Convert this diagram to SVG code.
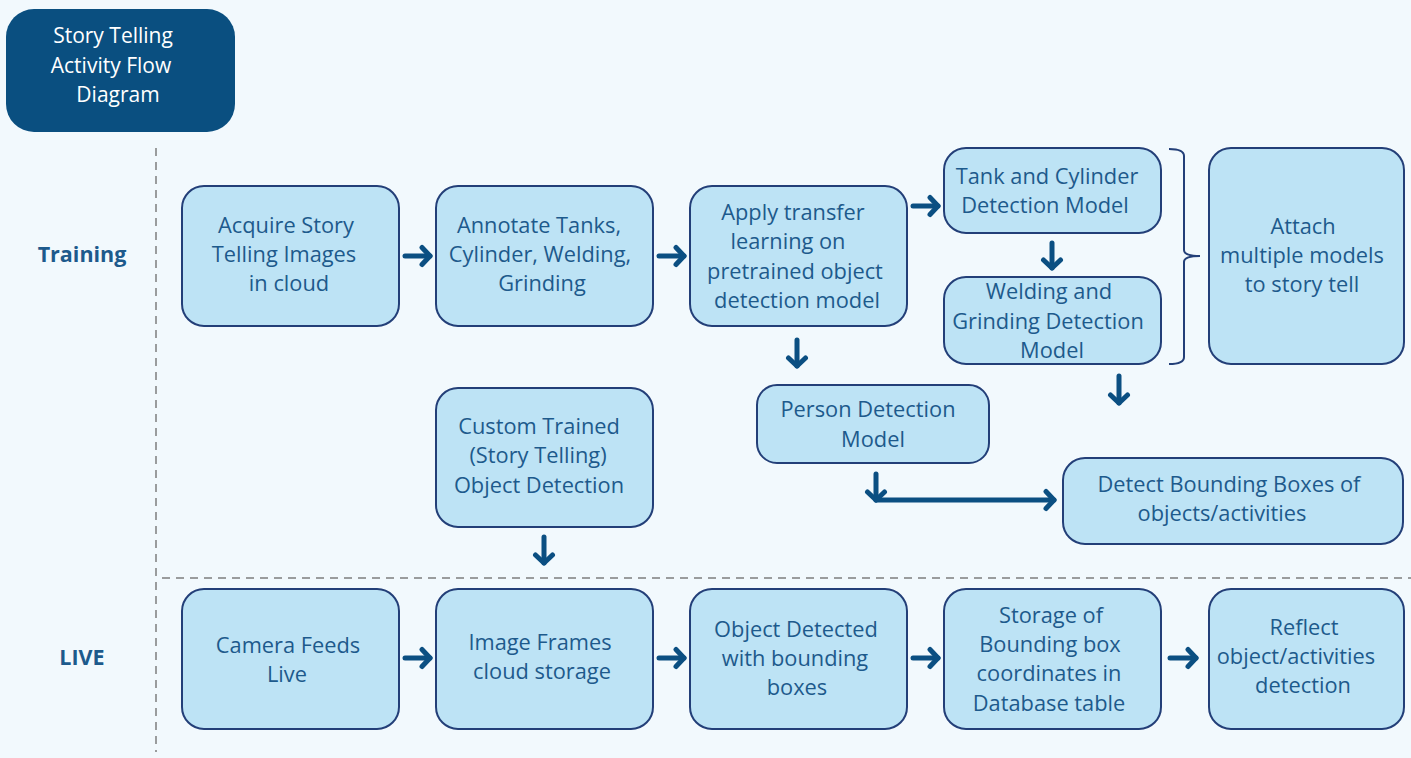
<svg xmlns="http://www.w3.org/2000/svg" width="1411" height="758" viewBox="0 0 1411 758">
<defs>
<marker id="ah" markerUnits="userSpaceOnUse" markerWidth="24" markerHeight="24" viewBox="0 0 24 24" refX="18" refY="12" orient="auto">
<path d="M10,3.5 L18,12 L10,20.5" fill="none" stroke="#0b4f82" stroke-width="5" stroke-linecap="round" stroke-linejoin="round"/>
</marker>
<style>
.node rect{fill:#bde3f5;stroke:#233f78;stroke-width:2}
.node text,.lbl{font-family:"Open Sans","Noto Sans",sans-serif;font-size:21.8px;fill:#1d5a8c;text-anchor:middle}
.lbl{font-weight:bold;font-size:21.5px}
.title text{font-family:"Open Sans","Noto Sans",sans-serif;font-size:21px;fill:#ffffff;text-anchor:middle}
.arr{fill:none;stroke:#0b4f82;stroke-width:5;stroke-linecap:round;marker-end:url(#ah)}
.dash{stroke:#7d7d7d;stroke-width:1.5;stroke-dasharray:8 6;fill:none}
</style>
</defs>
<rect x="0" y="0" width="1411" height="758" fill="#f2f9fd"/>
<g id="title" class="title">
<rect x="6" y="9" width="229" height="123" rx="28" fill="#0a4f80"/>
<text x="113" y="43">Story Telling</text>
<text x="111" y="73">Activity Flow</text>
<text x="118" y="102">Diagram</text>
</g>
<g id="dividers">
<line class="dash" x1="156" y1="148" x2="156" y2="752"/>
<line class="dash" x1="162" y1="578" x2="1411" y2="578"/>
</g>
<text class="lbl" x="82" y="262">Training</text>
<text class="lbl" x="82" y="665">LIVE</text>
<g id="acquire" class="node"><rect x="182" y="186" width="217" height="140" rx="22"/>
<text x="286" y="233">Acquire Story</text><text x="284" y="262">Telling Images</text><text x="289" y="291">in cloud</text></g>
<g id="annotate" class="node"><rect x="436" y="186" width="217" height="140" rx="22"/>
<text x="539" y="233">Annotate Tanks,</text><text x="540" y="262">Cylinder, Welding,</text><text x="542" y="291">Grinding</text></g>
<g id="transfer" class="node"><rect x="690" y="186" width="217" height="140" rx="22"/>
<text x="793" y="220">Apply transfer</text><text x="788" y="249">learning on</text><text x="795" y="279">pretrained object</text><text x="797" y="308">detection model</text></g>
<g id="tank" class="node"><rect x="944" y="148" width="217" height="85" rx="22"/>
<text x="1047" y="184">Tank and Cylinder</text><text x="1045" y="213">Detection Model</text></g>
<g id="welding" class="node"><rect x="944" y="277" width="217" height="87" rx="22"/>
<text x="1049" y="299">Welding and</text><text x="1048" y="329">Grinding Detection</text><text x="1052" y="358">Model</text></g>
<g id="attach" class="node"><rect x="1209" y="148" width="195" height="216" rx="22"/>
<text x="1303" y="234">Attach</text><text x="1302" y="263">multiple models</text><text x="1302" y="292">to story tell</text></g>
<g id="bracket"><path d="M1169,149 Q1184,149 1184,156 L1184,250 Q1184,256 1200,256 Q1184,256 1184,262 L1184,357 Q1184,364 1169,364" fill="none" stroke="#233f78" stroke-width="2"/></g>
<g id="person" class="node"><rect x="757" y="385" width="232" height="78" rx="20"/>
<text x="868" y="417">Person Detection</text><text x="873" y="447">Model</text></g>
<g id="custom" class="node"><rect x="436" y="388" width="217" height="139" rx="22"/>
<text x="539" y="434">Custom Trained</text><text x="538" y="463">(Story Telling)</text><text x="539" y="493">Object Detection</text></g>
<g id="detect" class="node"><rect x="1063" y="458" width="340" height="86" rx="22"/>
<text x="1229" y="492">Detect Bounding Boxes of</text><text x="1222" y="521">objects/activities</text></g>
<g id="camera" class="node"><rect x="182" y="589" width="217" height="140" rx="22"/>
<text x="288" y="653">Camera Feeds</text><text x="287" y="682">Live</text></g>
<g id="frames" class="node"><rect x="436" y="589" width="217" height="140" rx="22"/>
<text x="540" y="650">Image Frames</text><text x="542" y="679">cloud storage</text></g>
<g id="objdet" class="node"><rect x="690" y="589" width="217" height="140" rx="22"/>
<text x="796" y="637">Object Detected</text><text x="795" y="666">with bounding</text><text x="797" y="695">boxes</text></g>
<g id="storage" class="node"><rect x="944" y="589" width="217" height="140" rx="22"/>
<text x="1051" y="623">Storage of</text><text x="1050" y="652">Bounding box</text><text x="1049" y="681">coordinates in</text><text x="1049" y="711">Database table</text></g>
<g id="reflect" class="node"><rect x="1209" y="589" width="195" height="140" rx="22"/>
<text x="1304" y="635">Reflect</text><text x="1296" y="664">object/activities</text><text x="1303" y="693">detection</text></g>
<g id="connectors">
<path class="arr" d="M405,256 L430,256"/>
<path class="arr" d="M659,256 L684,256"/>
<path class="arr" d="M913,206 L938,206"/>
<path class="arr" d="M1052,243 L1052,268"/>
<path class="arr" d="M797,340 L797,366"/>
<path class="arr" d="M1119,376 L1119,403"/>
<path class="arr" d="M876,474 L876,500"/>
<path class="arr" d="M876,500 L1054,500"/>
<path class="arr" d="M544,537 L544,563"/>
<path class="arr" d="M405,658 L430,658"/>
<path class="arr" d="M659,658 L684,658"/>
<path class="arr" d="M913,658 L938,658"/>
<path class="arr" d="M1170,658 L1196,658"/>
</g>
</svg>
